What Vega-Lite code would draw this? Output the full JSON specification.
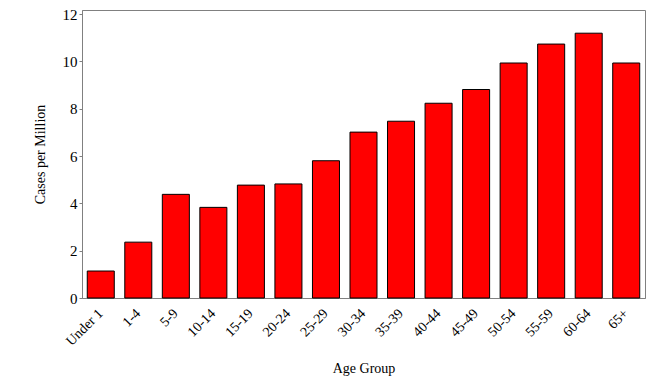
{
  "$schema": "https://vega.github.io/schema/vega-lite/v6.json",
  "autosize": "none",
  "width": 563,
  "height": 288,
  "padding": {"left": 82, "top": 10, "right": 27, "bottom": 83},
  "background": "white",
  "config": {
    "view": {"stroke": "#808080", "strokeWidth": 1},
    "font": "Liberation Serif"
  },
  "data": {
    "values": [
      {"age": "Under 1", "rate": 1.14},
      {"age": "1-4", "rate": 2.36},
      {"age": "5-9", "rate": 4.38},
      {"age": "10-14", "rate": 3.83},
      {"age": "15-19", "rate": 4.77},
      {"age": "20-24", "rate": 4.82},
      {"age": "25-29", "rate": 5.80},
      {"age": "30-34", "rate": 7.01},
      {"age": "35-39", "rate": 7.47},
      {"age": "40-44", "rate": 8.23},
      {"age": "45-49", "rate": 8.81},
      {"age": "50-54", "rate": 9.93},
      {"age": "55-59", "rate": 10.73},
      {"age": "60-64", "rate": 11.19},
      {"age": "65+", "rate": 9.93}
    ]
  },
  "mark": {"type": "bar", "fill": "#FF0000", "stroke": "#000000", "strokeWidth": 1},
  "encoding": {
    "x": {
      "field": "age",
      "type": "nominal",
      "sort": null,
      "scale": {"paddingInner": 0.28, "paddingOuter": 0.14},
      "axis": {
        "title": "Age Group",
        "titleFont": "Liberation Serif",
        "titleFontSize": 14,
        "titleFontWeight": "normal",
        "titleColor": "#000000",
        "titleY": 74,
        "titleBaseline": "alphabetic",
        "labelFont": "Liberation Serif",
        "labelFontSize": 14,
        "labelColor": "#000000",
        "labelAngle": -45,
        "labelAlign": "right",
        "labelBaseline": "middle",
        "labelPadding": 13,
        "ticks": false,
        "domainColor": "#808080",
        "grid": false
      }
    },
    "y": {
      "field": "rate",
      "type": "quantitative",
      "scale": {"domain": [0, 12.17], "nice": false, "zero": true},
      "axis": {
        "title": "Cases per Million",
        "titleFont": "Liberation Serif",
        "titleFontSize": 14,
        "titleFontWeight": "normal",
        "titleColor": "#000000",
        "titleX": -42,
        "titleY": 144,
        "titleAngle": -90,
        "titleAlign": "center",
        "titleBaseline": "middle",
        "values": [0, 2, 4, 6, 8, 10, 12],
        "labelFont": "Liberation Serif",
        "labelFontSize": 15,
        "labelColor": "#000000",
        "labelPadding": 2,
        "tickSize": 3,
        "tickColor": "#808080",
        "domainColor": "#808080",
        "grid": false
      }
    }
  }
}
